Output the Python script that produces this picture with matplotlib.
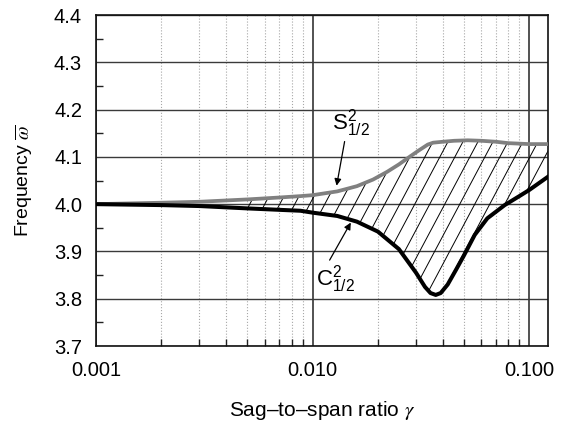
import numpy as np
import matplotlib
matplotlib.use("Agg")
import matplotlib.pyplot as plt
from matplotlib.patches import Polygon
from matplotlib.ticker import FixedLocator, FormatStrFormatter, NullFormatter

plt.rcParams['font.family'] = ['Liberation Sans', 'DejaVu Sans']
plt.rcParams['mathtext.fontset'] = 'stix'

# S^2_{1/2} branch (upper, grey)
gamma_s = [0.001, 0.002, 0.003, 0.005, 0.007, 0.0088, 0.010, 0.013, 0.016, 0.019,
           0.022, 0.025, 0.028, 0.031, 0.034, 0.036, 0.040, 0.045, 0.052, 0.060,
           0.070, 0.080, 0.100, 0.122]
freq_s = [4.000, 4.003, 4.005, 4.010, 4.014, 4.017, 4.019, 4.027, 4.038, 4.052,
          4.068, 4.084, 4.100, 4.114, 4.126, 4.130, 4.132, 4.134, 4.135, 4.134,
          4.132, 4.129, 4.127, 4.127]

# C^2_{1/2} branch (lower, black)
gamma_c = [0.001, 0.002, 0.003, 0.005, 0.007, 0.0088, 0.010, 0.013, 0.016, 0.020,
           0.025, 0.030, 0.033, 0.035, 0.037, 0.039, 0.042, 0.046, 0.050, 0.056,
           0.064, 0.077, 0.090, 0.100, 0.122]
freq_c = [4.000, 3.998, 3.996, 3.991, 3.988, 3.986, 3.982, 3.975, 3.963, 3.942,
          3.905, 3.855, 3.825, 3.812, 3.808, 3.812, 3.830, 3.862, 3.892, 3.935,
          3.970, 3.998, 4.017, 4.030, 4.058]

hatch_from = 0.0045

fig = plt.figure(figsize=(5.63, 4.22), dpi=100)
fig.subplots_adjust(left=96/563, right=548/563, bottom=1-346/422, top=1-15/422)
ax = fig.add_subplot(111)

ax.set_xscale('log')
ax.set_xlim(0.001, 0.122)
ax.set_ylim(3.7, 4.4)

# grid
ax.xaxis.set_major_locator(FixedLocator([0.001, 0.01, 0.1]))
ax.xaxis.set_major_formatter(FormatStrFormatter('%.3f'))
ax.xaxis.set_minor_locator(FixedLocator([m * d for d in (0.001, 0.01, 0.1) for m in range(2, 10)]))
ax.xaxis.set_minor_formatter(NullFormatter())
ax.set_yticks(np.arange(3.7, 4.41, 0.1))
ax.yaxis.set_major_formatter(FormatStrFormatter('%.1f'))
ax.set_yticks(np.arange(3.75, 4.4, 0.1), minor=True)

ax.grid(True, which='major', axis='y', color='#3a3a3a', lw=1.0)
ax.grid(True, which='major', axis='x', color='#444444', lw=1.3)
ax.grid(True, which='minor', axis='x', color='#a8a8a8', lw=0.8, ls=':')
ax.set_axisbelow(True)

ax.tick_params(which='both', direction='in', top=False, right=False, labelsize=14.5)
ax.tick_params(which='major', length=0)
ax.tick_params(which='minor', length=5, width=1, color='#222222')
ax.tick_params(axis='x', which='major', pad=11)
ax.tick_params(axis='y', which='major', pad=10)
for s in ax.spines.values():
    s.set_linewidth(1.2)
    s.set_color('#111111')

# hatched region between the branches
top = [(x, y) for x, y in zip(gamma_s, freq_s) if x >= hatch_from]
bot = [(x, y) for x, y in zip(gamma_c, freq_c) if x >= hatch_from]
poly = Polygon(top + bot[::-1], closed=True, facecolor='none', edgecolor='none',
               transform=ax.transData)
ax.add_patch(poly)

w_px, h_px = 452.0, 331.0
ang = np.deg2rad(62)
dx = (h_px / np.tan(ang)) / w_px
step = 15.0 / w_px
x_ref = (431.7 - 96) / w_px - 0.61 * dx
for k in range(-80, 80):
    x0 = x_ref + k * step
    if x0 > 1.05 or x0 + dx < -0.05:
        continue
    ln, = ax.plot([x0, x0 + dx], [0, 1], transform=ax.transAxes, color='black',
                  lw=0.7, zorder=2)
    ln.set_clip_path(poly)

ax.plot(gamma_s, freq_s, color='#808080', lw=2.7, zorder=3, solid_joinstyle='round')
ax.plot(gamma_c, freq_c, color='black', lw=2.9, zorder=4, solid_joinstyle='round')

arrow = dict(arrowstyle='-|>', color='black', lw=0.9, mutation_scale=10,
             shrinkA=0, shrinkB=0)
ax.annotate(r'$\mathregular{S^2_{1/2}}$', xy=(0.0129, 4.039), xytext=(0.0150, 4.172),
            fontsize=16, ha='center', va='center',
            arrowprops=dict(arrow, relpos=(0.35, 0.0)))
ax.annotate(r'$\mathregular{C^2_{1/2}}$', xy=(0.0150, 3.961), xytext=(0.0128, 3.842),
            fontsize=16, ha='center', va='center',
            arrowprops=dict(arrow, relpos=(0.3, 1.0)))

ax.set_xlabel(u'Sag\u2013to\u2013span ratio $\\gamma$', fontsize=15)
ax.set_ylabel(r'Frequency $\overline{\omega}$', fontsize=14)
ax.xaxis.set_label_coords(0.5, (346 - 399) / 331.0)
ax.yaxis.set_label_coords((35 - 96) / 452.0, 0.5)

fig.savefig('out.png', dpi=100)
